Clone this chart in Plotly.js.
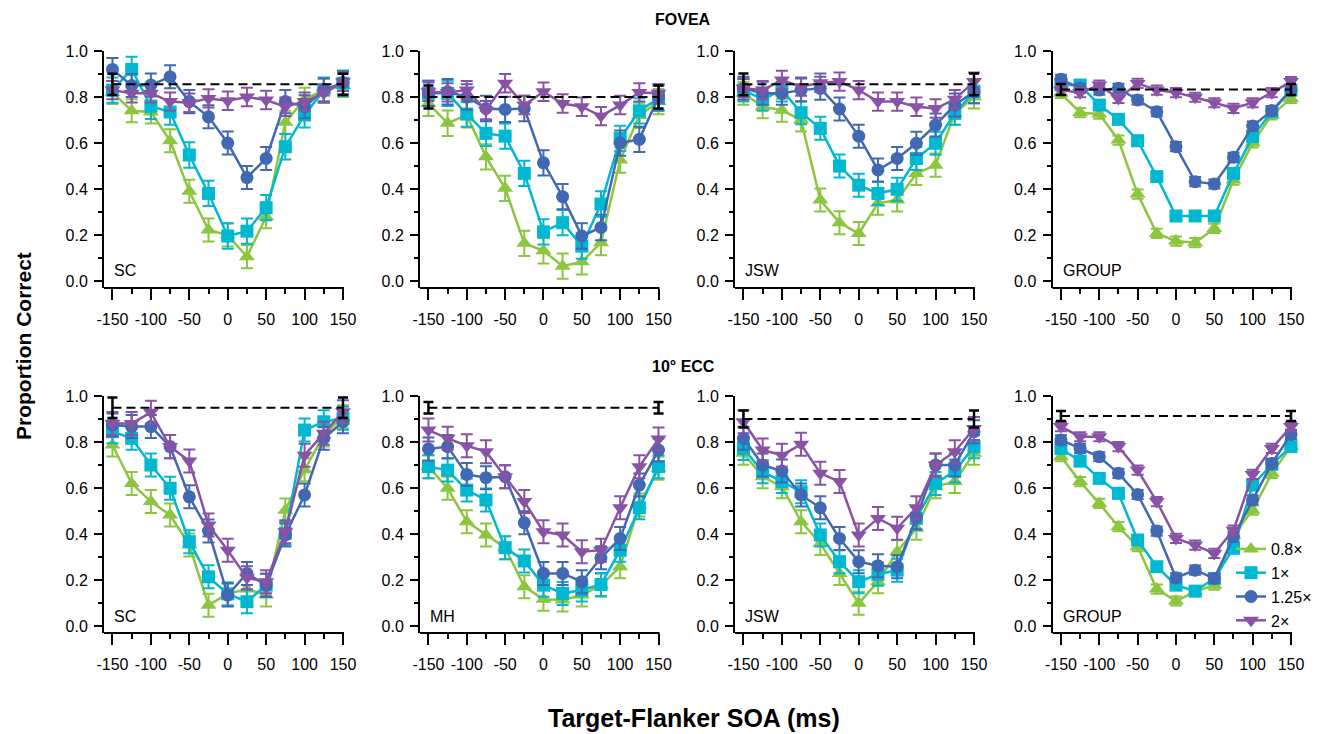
<!DOCTYPE html>
<html>
<head>
<meta charset="utf-8">
<script src="https://cdn.plot.ly/plotly-3.0.1.min.js"></script>
<style>html,body{margin:0;padding:0;background:#fff;}#chart{width:1320px;height:734px;}</style>
</head>
<body>
<div id="chart"></div>
<script>
// ---------- data ----------
const soa = [-150,-125,-100,-75,-50,-25,0,25,50,75,100,125,150];
const xTickVals = [-150,-100,-50,0,50,100,150];
const xTickText = ['-150','-100','-50','0','50','100','150'];
const xMinorVals = [-150,-125,-100,-75,-50,-25,0,25,50,75,100,125,150];
const seriesNames = ['0.8×','1×','1.25×','2×'];

// FOVEA row
const fovSC_08  = [0.82,0.74,0.735,0.61,0.39,0.222,0.20,0.106,0.28,0.69,0.79,0.83,0.85];
const fovSC_1   = [0.83,0.92,0.76,0.735,0.548,0.381,0.196,0.217,0.319,0.584,0.722,0.83,0.86];
const fovSC_125 = [0.92,0.85,0.852,0.888,0.78,0.714,0.60,0.45,0.533,0.78,0.758,0.83,0.862];
const fovSC_2   = [0.83,0.816,0.816,0.78,0.775,0.794,0.784,0.80,0.787,0.758,0.78,0.816,0.866];

const fovS2_08  = [0.772,0.686,0.722,0.54,0.403,0.164,0.132,0.065,0.084,0.167,0.526,0.72,0.78];
const fovS2_1   = [0.816,0.816,0.726,0.642,0.63,0.468,0.214,0.254,0.152,0.335,0.62,0.74,0.794];
const fovS2_125 = [0.816,0.823,0.80,0.75,0.746,0.75,0.514,0.367,0.196,0.233,0.60,0.616,0.80];
const fovS2_2   = [0.823,0.82,0.83,0.743,0.86,0.765,0.823,0.772,0.758,0.717,0.765,0.82,0.816];

const fovJSW_08  = [0.816,0.758,0.743,0.70,0.352,0.254,0.207,0.338,0.352,0.468,0.504,0.729,0.80];
const fovJSW_1   = [0.83,0.79,0.83,0.732,0.664,0.50,0.417,0.381,0.399,0.533,0.599,0.729,0.823];
const fovJSW_125 = [0.838,0.816,0.816,0.83,0.838,0.748,0.63,0.483,0.533,0.599,0.678,0.765,0.823];
const fovJSW_2   = [0.838,0.83,0.874,0.845,0.862,0.867,0.83,0.78,0.78,0.758,0.75,0.79,0.867];

const fovGRP_08  = [0.816,0.732,0.726,0.613,0.378,0.207,0.174,0.167,0.229,0.439,0.601,0.722,0.794];
const fovGRP_1   = [0.852,0.852,0.765,0.703,0.61,0.454,0.283,0.283,0.283,0.468,0.628,0.736,0.83];
const fovGRP_125 = [0.877,0.838,0.83,0.838,0.787,0.736,0.584,0.432,0.422,0.538,0.674,0.741,0.83];
const fovGRP_2   = [0.83,0.819,0.852,0.794,0.859,0.83,0.819,0.799,0.775,0.751,0.775,0.819,0.867];

// 10° ECC row
const eccSC_08  = [0.787,0.62,0.541,0.483,0.352,0.091,0.14,0.161,0.135,0.504,0.68,0.83,0.91];
const eccSC_1   = [0.845,0.816,0.70,0.599,0.367,0.214,0.14,0.106,0.178,0.403,0.852,0.888,0.903];
const eccSC_125 = [0.874,0.867,0.867,0.78,0.562,0.413,0.135,0.229,0.178,0.396,0.57,0.816,0.888];
const eccSC_2   = [0.881,0.881,0.929,0.78,0.717,0.439,0.33,0.21,0.193,0.41,0.743,0.838,0.932];

const eccMH_08  = [0.693,0.599,0.454,0.396,0.341,0.171,0.117,0.113,0.135,0.178,0.258,0.526,0.686];
const eccMH_1   = [0.693,0.678,0.591,0.548,0.341,0.283,0.178,0.142,0.157,0.181,0.33,0.514,0.693];
const eccMH_125 = [0.77,0.78,0.659,0.645,0.649,0.449,0.229,0.229,0.193,0.297,0.381,0.613,0.765];
const eccMH_2   = [0.852,0.816,0.784,0.758,0.649,0.541,0.41,0.396,0.323,0.33,0.514,0.693,0.813];

const eccJSW_08  = [0.751,0.649,0.606,0.454,0.359,0.229,0.099,0.193,0.323,0.425,0.606,0.628,0.751];
const eccJSW_1   = [0.772,0.671,0.628,0.584,0.396,0.28,0.193,0.225,0.243,0.468,0.62,0.674,0.78];
const eccJSW_125 = [0.816,0.70,0.674,0.57,0.514,0.381,0.28,0.262,0.258,0.471,0.70,0.70,0.845];
const eccJSW_2   = [0.888,0.765,0.743,0.79,0.664,0.628,0.396,0.468,0.425,0.514,0.70,0.758,0.859];

const eccGRP_08  = [0.736,0.628,0.533,0.432,0.345,0.161,0.109,0.15,0.178,0.396,0.504,0.664,0.78];
const eccGRP_1   = [0.772,0.717,0.642,0.577,0.374,0.258,0.178,0.152,0.207,0.338,0.613,0.703,0.78];
const eccGRP_125 = [0.809,0.772,0.736,0.664,0.572,0.413,0.21,0.243,0.207,0.388,0.548,0.707,0.833];
const eccGRP_2   = [0.867,0.823,0.823,0.78,0.678,0.541,0.381,0.352,0.316,0.417,0.659,0.772,0.867];

// baseline (dashed) level and its error per panel
const baseLevel = [0.855,0.80,0.855,0.833, 0.949,0.949,0.90,0.913];
const baseErr   = [0.046,0.05,0.047,0.024, 0.045,0.025,0.037,0.022];
// error-bar half-lengths per panel, per series (0.8×, 1×, 1.25×, 2×)
const panelErr = [
  [0.05,0.055,0.05,0.04],
  [0.055,0.055,0.055,0.04],
  [0.05,0.05,0.05,0.04],
  [0.02,0.02,0.02,0.02],
  [0.05,0.05,0.05,0.05],
  [0.05,0.05,0.05,0.05],
  [0.05,0.05,0.05,0.05],
  [0.02,0.02,0.02,0.02]
];
const panelLabels = ['SC','','JSW','GROUP','SC','MH','JSW','GROUP'];

const panels = [
  [fovSC_08,fovSC_1,fovSC_125,fovSC_2],
  [fovS2_08,fovS2_1,fovS2_125,fovS2_2],
  [fovJSW_08,fovJSW_1,fovJSW_125,fovJSW_2],
  [fovGRP_08,fovGRP_1,fovGRP_125,fovGRP_2],
  [eccSC_08,eccSC_1,eccSC_125,eccSC_2],
  [eccMH_08,eccMH_1,eccMH_125,eccMH_2],
  [eccJSW_08,eccJSW_1,eccJSW_125,eccJSW_2],
  [eccGRP_08,eccGRP_1,eccGRP_125,eccGRP_2]
];

// ---------- style ----------
const W = 1320, H = 734;
const colors  = ['#8CC63F','#00B8D0','#4169B3','#8953A5'];
const symbols = ['triangle-up','square','circle','triangle-down'];
const msizes  = [14,13,13,14];
const FONT = 'Liberation Sans, Arial, Helvetica, sans-serif';

const XMIN = -161, XMAX = 150, XPAD = 10; // visible axis ends at XMAX; extra room so end marks are not clipped
const xDomPx = [[104,343],[420,658.5],[735,974],[1052.5,1291]];
const yDomPx = [[51,288],[396,633]]; // top, bottom in screen px

const traces = [];
const layout = {
  width: W, height: H,
  margin: {l:0,r:0,t:0,b:0},
  paper_bgcolor: '#fff', plot_bgcolor: 'rgba(0,0,0,0)',
  font: {family: FONT, size: 16, color: '#000'},
  showlegend: true,
  legend: {
    x: 1231/W, y: (H-532)/H, xanchor: 'left', yanchor: 'top',
    bgcolor: 'rgba(0,0,0,0)', borderwidth: 0,
    font: {family: FONT, size: 16, color: '#000'},
    tracegroupgap: 0, itemwidth: 30, traceorder: 'normal'
  },
  annotations: [],
  shapes: []
};

panels.forEach((series, p) => {
  const row = p < 4 ? 0 : 1;
  const col = p % 4;
  const ax = p === 0 ? '' : String(p+1);
  const xa = 'x'+ax, ya = 'y'+ax;
  const pxPerUnit = (xDomPx[col][1]-xDomPx[col][0])/(XMAX-XMIN);
  const extraPx = XPAD*pxPerUnit;
  layout['xaxis'+ax] = {
    domain: [xDomPx[col][0]/W, (xDomPx[col][1]+extraPx)/W],
    range: [XMIN, XMAX+XPAD], anchor: ya,
    showline: false,
    showgrid: false, zeroline: false,
    tickmode: 'array', tickvals: xTickVals, ticktext: xTickText,
    ticks: 'outside', ticklen: 11, tickwidth: 2, tickcolor: '#000',
    ticklabelstandoff: 6,
    minor: {tickmode: 'array', tickvals: xMinorVals, ticks: 'outside', ticklen: 5, tickwidth: 2, tickcolor: '#000', showgrid: false},
    tickfont: {family: FONT, size: 16, color: '#000'},
    fixedrange: true
  };
  layout['yaxis'+ax] = {
    domain: [(H-yDomPx[row][1])/H, (H-yDomPx[row][0])/H],
    range: [-0.03, 1.0], anchor: xa,
    showline: true, linecolor: '#000', linewidth: 2,
    showgrid: false, zeroline: false,
    tickmode: 'linear', tick0: 0, dtick: 0.2, tickformat: '.1f',
    ticks: 'outside', ticklen: 8, tickwidth: 2, tickcolor: '#000',
    ticklabelstandoff: 3,
    minor: {tickmode: 'linear', tick0: 0, dtick: 0.1, ticks: 'outside', ticklen: 4, tickwidth: 2, tickcolor: '#000', showgrid: false},
    tickfont: {family: FONT, size: 16, color: '#000'},
    fixedrange: true
  };
  // x axis line ending at the last tick
  layout.shapes.push({
    type: 'line', xref: xa, yref: ya + ' domain',
    x0: XMIN - 1/pxPerUnit, x1: XMAX + 1/pxPerUnit, y0: 0, y1: 0,
    line: {color: '#000', width: 2}
  });
  series.forEach((vals, s) => {
    traces.push({
      type: 'scatter', mode: 'lines+markers',
      x: soa, y: vals, xaxis: xa, yaxis: ya,
      name: seriesNames[s], showlegend: p === 7,
      cliponaxis: false,
      line: {color: colors[s], width: 2.5},
      marker: {symbol: symbols[s], size: msizes[s], color: colors[s], line: {width: 0}},
      error_y: {type: 'constant', value: panelErr[p][s], visible: true, color: colors[s], thickness: 2, width: 6}
    });
  });
  // dashed baseline with end error bars
  traces.push({
    type: 'scatter', mode: 'lines',
    x: [soa[0], soa[soa.length-1]], y: [baseLevel[p], baseLevel[p]],
    xaxis: xa, yaxis: ya, showlegend: false, cliponaxis: false,
    line: {color: '#000', width: 2, dash: '9px,5px'},
    error_y: {type: 'constant', value: baseErr[p], visible: true, color: '#000', thickness: 2.5, width: 5}
  });
  if (panelLabels[p]) {
    layout.annotations.push({
      text: panelLabels[p], xref: 'paper', yref: 'paper',
      x: (xDomPx[col][0] + 8)/W, y: (H - (yDomPx[row][1] - 17))/H,
      xanchor: 'left', yanchor: 'middle', showarrow: false,
      font: {family: FONT, size: 16, color: '#000'}
    });
  }
});

// row titles & axis titles
layout.annotations.push(
  {text: '<b>FOVEA</b>', xref: 'paper', yref: 'paper', x: 683/W, y: (H-20)/H, xanchor: 'center', yanchor: 'middle', showarrow: false, font: {family: FONT, size: 16, color: '#000'}},
  {text: '<b>10° ECC</b>', xref: 'paper', yref: 'paper', x: 683/W, y: (H-366)/H, xanchor: 'center', yanchor: 'middle', showarrow: false, font: {family: FONT, size: 16, color: '#000'}},
  {text: '<b>Proportion Correct</b>', xref: 'paper', yref: 'paper', x: 23/W, y: (H-346)/H, xanchor: 'center', yanchor: 'middle', textangle: -90, showarrow: false, font: {family: FONT, size: 21, color: '#000'}},
  {text: '<b>Target-Flanker SOA (ms)</b>', xref: 'paper', yref: 'paper', x: 694/W, y: (H-718)/H, xanchor: 'center', yanchor: 'middle', showarrow: false, font: {family: FONT, size: 25, color: '#000'}}
);

Plotly.newPlot('chart', traces, layout, {staticPlot: true, displayModeBar: false});
</script>
</body>
</html>
